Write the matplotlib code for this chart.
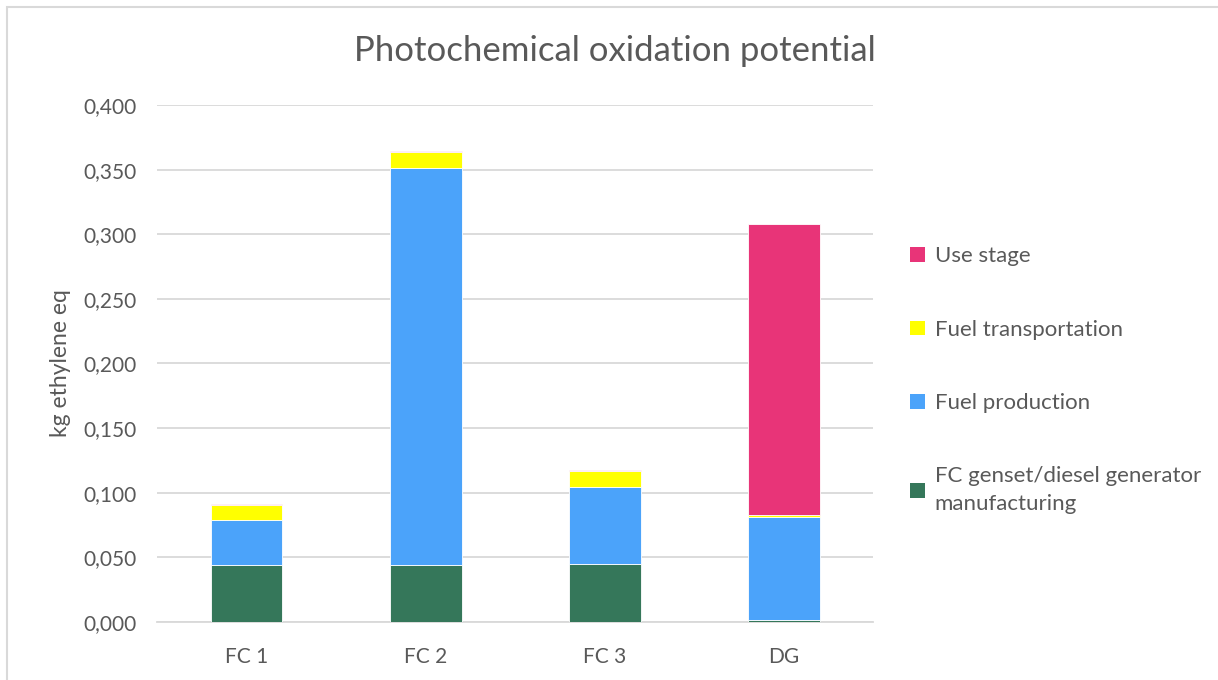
import matplotlib.pyplot as plt
from matplotlib.patches import Rectangle, Patch
import numpy as np

# Stacked contributions per system (kg ethylene eq)
categories = ['FC 1', 'FC 2', 'FC 3', 'DG']
manufacturing = [0.0441, 0.0441, 0.0445, 0.0015]
fuel_production = [0.0346, 0.3072, 0.0602, 0.0797]
fuel_transport = [0.0118, 0.0121, 0.0121, 0.0012]
use_stage = [0.0006, 0.0007, 0.0006, 0.2256]

series_labels = ['FC genset/diesel generator\nmanufacturing', 'Fuel production',
                 'Fuel transportation', 'Use stage']
y_ticks = [0.0, 0.05, 0.10, 0.15, 0.20, 0.25, 0.30, 0.35, 0.40]

COLORS = ['#35775A', '#4BA3FA', '#FFFF00', '#E83478']
TEXT = '#595959'
GRID = '#D9D9D9'

plt.rcParams['font.family'] = ['Lato', 'DejaVu Sans']

fig = plt.figure(figsize=(12.18, 6.8), dpi=100)
ax = fig.add_axes([0.129, 0.0853, 0.588, 0.7603])

# Chart frame
fig.patches.append(Rectangle((7 / 1218, -0.1), 1.2, (1 - 7 / 680) + 0.1,
                             transform=fig.transFigure, fill=False,
                             edgecolor='#D9D9D9', linewidth=1.5))

x = np.arange(len(categories))
bottom = np.zeros(len(categories))
for values, color in zip([manufacturing, fuel_production, fuel_transport, use_stage], COLORS):
    ax.bar(x, values, width=0.4, bottom=bottom, color=color,
           edgecolor='white', linewidth=0.6, zorder=3)
    bottom += np.array(values)

ax.set_xlim(-0.5, len(categories) - 0.5)
ax.set_ylim(0, 0.4)
ax.set_yticks(y_ticks)
ax.set_yticklabels([f'{v:.3f}'.replace('.', ',') for v in y_ticks])
ax.set_xticks(x)
ax.set_xticklabels(categories)
ax.tick_params(axis='both', length=0, colors=TEXT, labelsize=15)
ax.tick_params(axis='y', pad=15)
ax.tick_params(axis='x', pad=18)
ax.grid(axis='y', color=GRID, linewidth=1.3, zorder=0)
for side in ['top', 'right', 'left']:
    ax.spines[side].set_visible(False)
ax.spines['bottom'].set_color(GRID)
ax.spines['bottom'].set_linewidth(1.3)

ax.set_ylabel('kg ethylene eq', color=TEXT, fontsize=16.5, labelpad=9)
fig.text(0.505, 0.925, 'Photochemical oxidation potential', ha='center', va='center',
         color=TEXT, fontsize=25)

handles = [Patch(facecolor=c) for c in COLORS][::-1]
leg = fig.legend(handles, series_labels[::-1], loc='upper left',
                 bbox_to_anchor=(0.731, 0.667), frameon=False, fontsize=16,
                 labelspacing=2.4, handlelength=0.65, handleheight=0.65,
                 handletextpad=0.45, labelcolor=TEXT)
for t in leg.get_texts():
    t.set_linespacing(1.5)

fig.savefig('out.png', dpi=100)
